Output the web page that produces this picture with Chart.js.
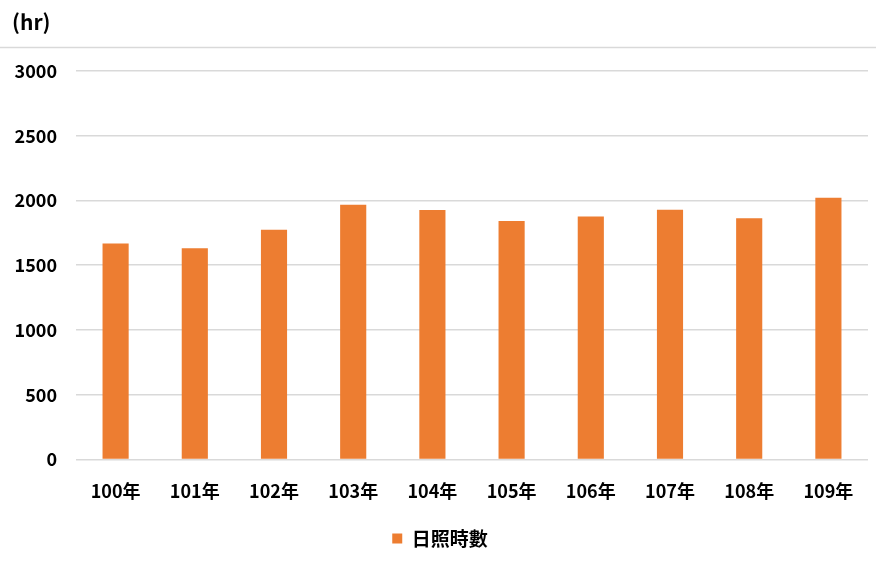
<!DOCTYPE html>
<html>
<head>
<meta charset="utf-8">
<script src="https://cdn.jsdelivr.net/npm/chart.js@4"></script>
<style>
  html, body { margin: 0; padding: 0; background: #fff; }
  #wrap { width: 876px; height: 563px; }
</style>
</head>
<body>
<div id="wrap"><canvas id="myChart" width="876" height="563"></canvas></div>
<script>
// annual sunshine hours, ROC years 100-109
var years = ["100年", "101年", "102年", "103年", "104年", "105年", "106年", "107年", "108年", "109年"];
var sunHours = [1667, 1631, 1774, 1967, 1926, 1841, 1877, 1928, 1862, 2021];
var yTicks = [0, 500, 1000, 1500, 2000, 2500, 3000];
var unitLabel = "(hr)";
var seriesName = "日照時數";

var FONT = "'Noto Sans CJK TC', 'Noto Sans', sans-serif";

// unit text at top left plus the thin rule under it
var headerPlugin = {
	id: "header",
	afterDraw: function (chart) {
		var c = chart.ctx;
		c.save();
		c.fillStyle = "#000";
		c.font = "bold 21px " + FONT;
		c.textBaseline = "middle";
		c.textAlign = "left";
		c.fillText(unitLabel, 12, 22);
		c.strokeStyle = "#d9d9d9";
		c.lineWidth = 1.5;
		c.beginPath();
		c.moveTo(0, 47.5);
		c.lineTo(chart.width, 47.5);
		c.stroke();
		c.restore();
	},
};

var ctx = document.getElementById("myChart").getContext("2d");
var myChart = new Chart(ctx, {
	type: "bar",
	data: {
		labels: years,
		datasets: [
			{
				label: seriesName,
				data: sunHours,
				backgroundColor: "#ED7D31",
				borderWidth: 0,
				barPercentage: 0.33,
				categoryPercentage: 1,
			},
		],
	},
	options: {
		responsive: false,
		animation: false,
		layout: {
			padding: { top: 71, left: 12, right: 8, bottom: 5 },
		},
		plugins: {
			legend: {
				position: "bottom",
				labels: {
					boxWidth: 10,
					boxHeight: 10,
					color: "#000",
					padding: 14,
					font: { family: FONT, size: 19, weight: "bold" },
				},
			},
			tooltip: { enabled: false },
		},
		scales: {
			x: {
				grid: { display: false },
				border: { display: false },
				ticks: {
					color: "#000",
					padding: 13,
					font: { family: FONT, size: 18, weight: "bold" },
				},
			},
			y: {
				min: 0,
				max: 3000,
				afterBuildTicks: function (axis) {
					axis.ticks = yTicks.map(function (v) {
						return { value: v };
					});
				},
				afterFit: function (axis) {
					axis.width = 64;
				},
				grid: { color: "#d9d9d9", lineWidth: 1.5, drawTicks: false },
				border: { display: false },
				ticks: {
					color: "#000",
					padding: 19,
					font: { family: FONT, size: 18, weight: "bold" },
					callback: function (v) {
						return String(v);
					},
				},
			},
		},
	},
	plugins: [headerPlugin],
});
</script>
</body>
</html>
